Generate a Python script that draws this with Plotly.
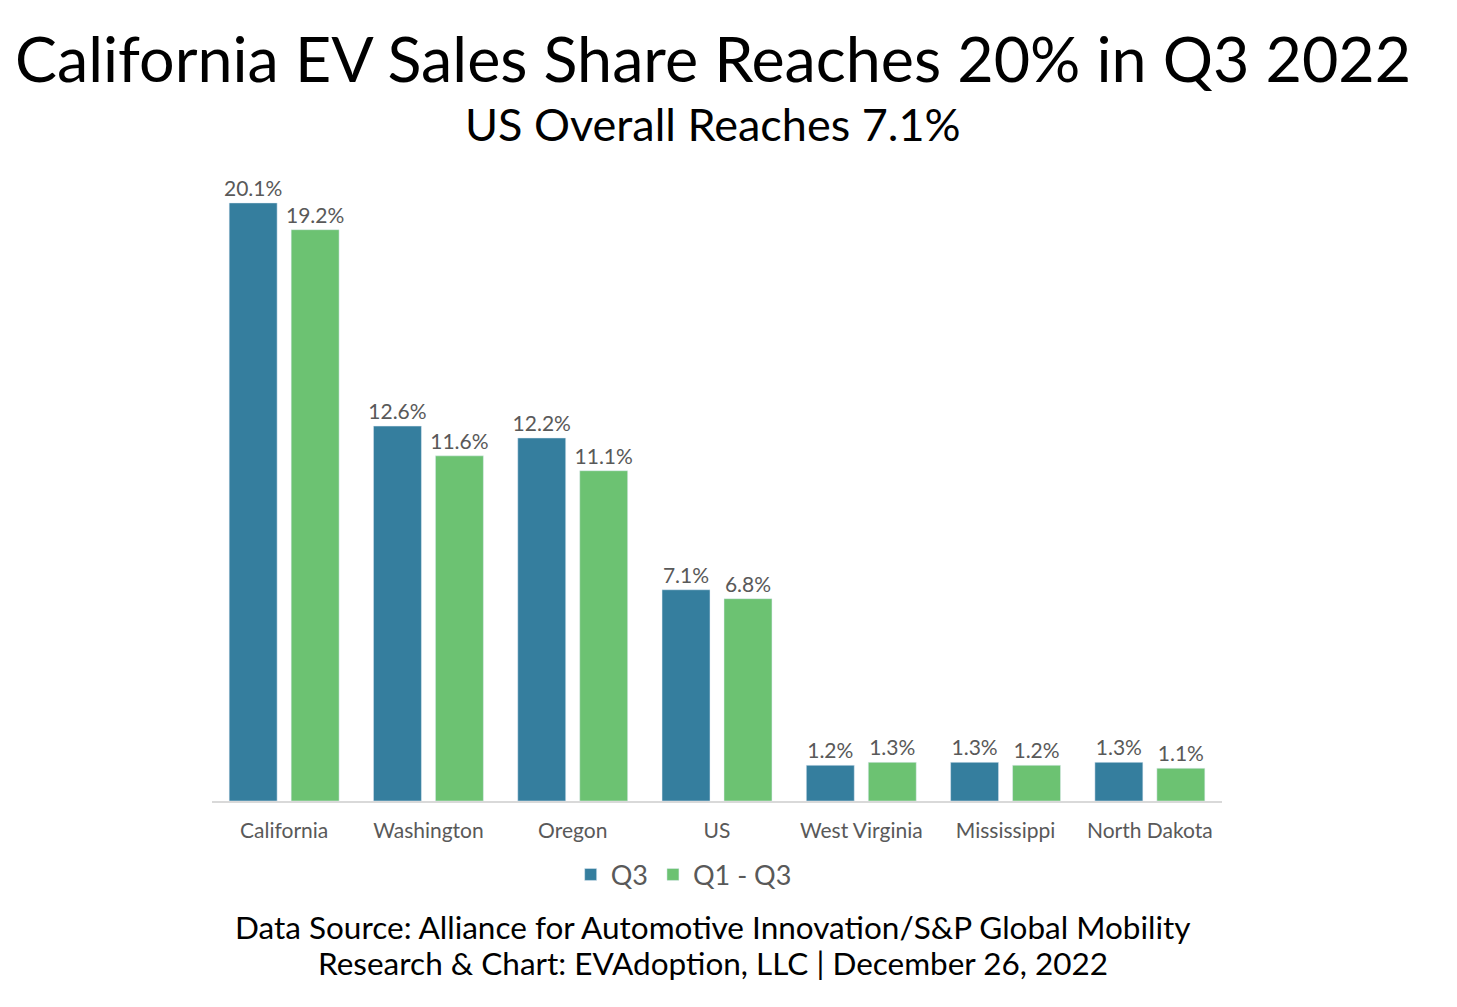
import plotly.graph_objects as go

categories = ["California", "Washington", "Oregon", "US", "West Virginia", "Mississippi", "North Dakota"]
q3 = [20.1, 12.6, 12.2, 7.1, 1.2, 1.3, 1.3]
q1_q3 = [19.2, 11.6, 11.1, 6.8, 1.3, 1.2, 1.1]
series_names = ["Q3", "Q1 - Q3"]

FONT = "Lato, Open Sans, sans-serif"
LABEL = "#595959"

fig = go.Figure()
fig.add_trace(go.Bar(
    x=categories, y=q3, name=series_names[0], marker_color="#357E9E",
    text=[f"{v:.1f}%" for v in q3], textposition="outside", constraintext="none",
    textfont=dict(size=21, color=LABEL, family=FONT), cliponaxis=False,
))
fig.add_trace(go.Bar(
    x=categories, y=q1_q3, name=series_names[1], marker_color="#6CC272",
    text=[f"{v:.1f}%" for v in q1_q3], textposition="outside", constraintext="none",
    textfont=dict(size=21, color=LABEL, family=FONT), cliponaxis=False,
))

fig.update_layout(
    width=1457, height=1007,
    margin=dict(l=212, r=235, t=180, b=206),
    paper_bgcolor="white", plot_bgcolor="white",
    barmode="group", bargap=0.141, bargroupgap=0.226,
    font=dict(family=FONT, color=LABEL),
    showlegend=True,
    legend=dict(orientation="h", x=0.467, xanchor="center", y=-0.119, yanchor="middle",
                font=dict(size=27, color=LABEL), itemwidth=30, traceorder="normal"),
    xaxis=dict(showline=True, linecolor="#d9d9d9", linewidth=1.5, ticks="",
               ticklabelstandoff=10,
               tickfont=dict(size=21, color=LABEL), showgrid=False),
    yaxis=dict(range=[0, 20.87], visible=False, showgrid=False),
    annotations=[
        dict(text="California EV Sales Share Reaches 20% in Q3 2022", xref="paper", yref="paper",
             x=0.496, y=(801 - 57) / 621, xanchor="center", yanchor="middle", showarrow=False,
             font=dict(size=62.8, color="black", family=FONT)),
        dict(text="US Overall Reaches 7.1%", xref="paper", yref="paper",
             x=0.496, y=(801 - 124) / 621, xanchor="center", yanchor="middle", showarrow=False,
             font=dict(size=45, color="black", family=FONT)),
        dict(text="Data Source: Alliance for Automotive Innovation/S&P Global Mobility", xref="paper", yref="paper",
             x=0.496, y=(801 - 927) / 621, xanchor="center", yanchor="middle", showarrow=False,
             font=dict(size=31.5, color="black", family=FONT)),
        dict(text="Research & Chart: EVAdoption, LLC | December 26, 2022", xref="paper", yref="paper",
             x=0.496, y=(801 - 963) / 621, xanchor="center", yanchor="middle", showarrow=False,
             font=dict(size=31.5, color="black", family=FONT)),
    ],
)

fig.write_html("out.html")
